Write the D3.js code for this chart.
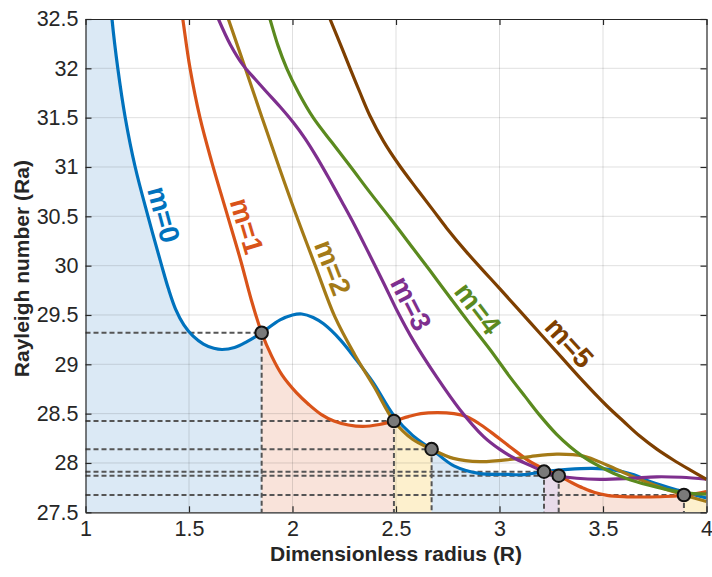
<!DOCTYPE html>
<html>
<head>
<meta charset="utf-8">
<script src="https://cdn.jsdelivr.net/npm/d3@7"></script>
<style>
  body { margin: 0; background: #fff; }
  text { font-family: "Liberation Sans", Arial, Helvetica, sans-serif; }
</style>
</head>
<body>
<svg id="chart" width="712" height="577"></svg>
<script>
// critical Rayleigh number vs radius, one curve per azimuthal mode m
const m0 = [[1.0,36.3],[1.05,34.6],[1.10,33.25],[1.128,32.5],[1.156,32.0],[1.192,31.5],[1.24,31.0],[1.302,30.5],
  [1.368,30.0],[1.40,29.77],[1.435,29.56],[1.475,29.40],[1.52,29.285],[1.57,29.205],[1.62,29.162],[1.66,29.15],
  [1.72,29.17],[1.78,29.23],[1.851,29.32],[1.94,29.45],[2.0,29.5],[2.045,29.51],[2.10,29.475],[2.15,29.41],[2.23,29.25],
  [2.31,29.04],[2.39,28.815],[2.49,28.48],[2.58,28.28],[2.672,28.14],[2.78,27.97],[2.90,27.895],[3.03,27.885],
  [3.12,27.882],[3.215,27.912],[3.33,27.935],[3.45,27.945],[3.55,27.93],[3.65,27.88],[3.73,27.81],[3.86,27.725],[4.0,27.645]];
const m1 = [[1.44,32.95],[1.47,32.5],[1.505,32.0],[1.553,31.5],[1.61,31.05],[1.68,30.55],[1.75,30.05],[1.80,29.66],
  [1.851,29.32],[1.90,29.08],[1.95,28.89],[2.02,28.71],[2.08,28.59],[2.14,28.49],[2.20,28.425],[2.27,28.385],
  [2.34,28.37],[2.42,28.39],[2.49,28.425],[2.56,28.47],[2.62,28.50],[2.70,28.51],[2.78,28.50],[2.84,28.47],
  [2.90,28.40],[2.96,28.31],[3.05,28.165],[3.15,28.01],[3.215,27.94],[3.286,27.871],[3.35,27.80],[3.405,27.745],
  [3.46,27.70],[3.52,27.672],[3.60,27.658],[3.70,27.655],[3.80,27.66],[3.891,27.675],[3.95,27.69],[4.0,27.71]];
const m2 = [[1.62,32.93],[1.69,32.5],[1.772,32.0],[1.853,31.5],[1.935,31.0],[2.02,30.5],[2.11,30.0],[2.205,29.48],
  [2.30,29.10],[2.395,28.77],[2.49,28.425],[2.58,28.24],[2.672,28.14],[2.777,28.047],[2.906,28.013],
  [3.05,28.035],[3.15,28.065],[3.276,28.09],[3.405,28.07],[3.518,27.98],[3.646,27.86],[3.79,27.743],[3.891,27.675],[4.0,27.61]];
const m3 = [[1.60,32.72],[1.642,32.5],[1.70,32.24],[1.762,32.03],[1.82,31.89],[1.875,31.76],[1.94,31.61],[2.004,31.45],
  [2.06,31.29],[2.117,31.10],[2.18,30.87],[2.238,30.65],[2.30,30.41],[2.37,30.12],[2.439,29.83],[2.511,29.52],
  [2.584,29.24],[2.697,28.87],[2.809,28.54],[2.922,28.27],[3.0,28.14],[3.07,28.05],[3.15,27.975],[3.215,27.912],
  [3.286,27.871],[3.373,27.845],[3.486,27.834],[3.63,27.844],[3.76,27.86],[3.88,27.855],[4.0,27.837]];
const m4 = [[1.86,32.72],[1.891,32.5],[1.93,32.23],[1.972,32.0],[2.03,31.75],[2.10,31.5],[2.19,31.25],[2.278,31.01],
  [2.375,30.74],[2.472,30.48],[2.57,30.21],[2.664,29.95],[2.76,29.68],[2.85,29.43],[2.954,29.15],[3.051,28.87],
  [3.125,28.67],[3.196,28.48],[3.276,28.29],[3.341,28.165],[3.40,28.07],[3.47,27.98],[3.55,27.895],[3.63,27.83],
  [3.76,27.755],[3.891,27.70],[4.0,27.685]];
const m5 = [[2.15,32.66],[2.181,32.5],[2.23,32.25],[2.278,32.0],[2.325,31.76],[2.374,31.52],[2.44,31.26],[2.515,31.02],
  [2.60,30.78],[2.68,30.56],[2.745,30.38],[2.84,30.14],[2.93,29.93],[3.0,29.77],[3.15,29.42],[3.30,29.07],
  [3.39,28.86],[3.518,28.58],[3.60,28.42],[3.679,28.27],[3.76,28.14],[3.84,28.03],[3.92,27.93],[4.0,27.834]];

const curves = [m0, m1, m2, m3, m4, m5];
const modeNames = ["m=0", "m=1", "m=2", "m=3", "m=4", "m=5"];
const labelR = [1.305, 1.707, 2.124, 2.505, 2.836, 3.281];

// switch points of the lowest curve, and which mode owns each stretch
const dotR = [1.851, 2.49, 2.672, 3.215, 3.286, 3.891];
const dotRa = [29.32, 28.425, 28.14, 27.912, 27.871, 27.675];
const regionMode = [0, 1, 2, 0, 3, 1, 2];

const xTicks = [1, 1.5, 2, 2.5, 3, 3.5, 4];
const yTicks = [27.5, 28, 28.5, 29, 29.5, 30, 30.5, 31, 31.5, 32, 32.5];

const lineColors = ["#0072BD", "#D95319", "#A47A17", "#7E2F8E", "#5B8A1F", "#7E3F00"];
const fillColors = ["#dbe9f5", "#f9e3da", "#fdf0cd", "#e8dbea", "#e4eed7", "#eadbcf"];

const svg = d3.select("#chart");
const pLeft = 85.5, pRight = 706.5, pTop = 19, pBottom = 512.3;
const x = d3.scaleLinear().domain([1, 4]).range([pLeft, pRight]);
const y = d3.scaleLinear().domain([27.5, 32.5]).range([pBottom, pTop]);
const ink = "#262626";

const defs = svg.append("defs");
defs.append("clipPath").attr("id", "plotclip")
  .append("rect").attr("x", pLeft).attr("y", pTop).attr("width", pRight - pLeft).attr("height", pBottom - pTop);

const curveType = d3.curveCatmullRom.alpha(0.5);
const line = d3.line().x(d => x(d[0])).y(d => y(d[1])).curve(curveType);
const area = d3.area().x(d => x(d[0])).y0(y(27.5)).y1(d => y(d[1])).curve(curveType);

// shaded regions under the lowest curve
const bounds = [1].concat(dotR, [4]);
const fillG = svg.append("g");
regionMode.forEach((m, i) => {
  defs.append("clipPath").attr("id", "reg" + i)
    .append("rect")
    .attr("x", x(bounds[i])).attr("y", pTop)
    .attr("width", x(bounds[i + 1]) - x(bounds[i])).attr("height", pBottom - pTop);
  fillG.append("path")
    .attr("clip-path", "url(#reg" + i + ")")
    .attr("d", area(curves[m]))
    .attr("fill", fillColors[m]);
});

// grid
const grid = svg.append("g").attr("stroke", ink).attr("stroke-opacity", 0.14).attr("stroke-width", 1);
grid.selectAll(".gx").data(xTicks.slice(1, -1)).join("line")
  .attr("x1", d => x(d)).attr("x2", d => x(d)).attr("y1", pTop).attr("y2", pBottom);
grid.selectAll(".gy").data(yTicks.slice(1, -1)).join("line")
  .attr("y1", d => y(d)).attr("y2", d => y(d)).attr("x1", pLeft).attr("x2", pRight);

// dashed guides to the switch points
const guides = svg.append("g").attr("stroke", "#555").attr("stroke-width", 2).attr("stroke-dasharray", "5,3");
dotR.forEach((r, i) => {
  guides.append("line").attr("x1", x(1)).attr("x2", x(r)).attr("y1", y(dotRa[i])).attr("y2", y(dotRa[i]));
  guides.append("line").attr("x1", x(r)).attr("x2", x(r)).attr("y1", y(dotRa[i])).attr("y2", y(27.5));
});

// curves
const lineG = svg.append("g").attr("clip-path", "url(#plotclip)");
curves.forEach((c, i) => {
  lineG.append("path").attr("d", line(c)).attr("fill", "none")
    .attr("stroke", lineColors[i]).attr("stroke-width", 3.2);
});

// switch point markers
svg.append("g").selectAll("circle").data(dotR).join("circle")
  .attr("cx", d => x(d)).attr("cy", (d, i) => y(dotRa[i])).attr("r", 6.3)
  .attr("fill", "#7a7a7a").attr("stroke", "#111").attr("stroke-width", 2);

// curve labels, rotated along each curve
function valueAt(c, r) {
  for (let k = 1; k < c.length; k++) {
    if (c[k][0] >= r) {
      const t = (r - c[k - 1][0]) / (c[k][0] - c[k - 1][0]);
      return c[k - 1][1] + t * (c[k][1] - c[k - 1][1]);
    }
  }
  return c[c.length - 1][1];
}
labelR.forEach((r, i) => {
  const c = curves[i];
  const px = x(r), py = y(valueAt(c, r));
  const dx = x(r + 0.04) - x(r - 0.04);
  const dy = y(valueAt(c, r + 0.04)) - y(valueAt(c, r - 0.04));
  const ang = Math.atan2(dy, dx) * 180 / Math.PI;
  svg.append("text")
    .attr("transform", `translate(${px},${py}) rotate(${ang})`)
    .attr("dy", -6)
    .attr("text-anchor", "middle")
    .attr("font-size", 28).attr("font-weight", "bold")
    .attr("fill", lineColors[i])
    .text(modeNames[i]);
});

// axes
const fs = 21.5;
const ax = svg.append("g").attr("transform", `translate(0,${pBottom})`)
  .call(d3.axisBottom(x).tickValues(xTicks).tickFormat(d => String(d)).tickSizeInner(-6).tickSizeOuter(0).tickPadding(8));
const ay = svg.append("g").attr("transform", `translate(${pLeft},0)`)
  .call(d3.axisLeft(y).tickValues(yTicks).tickFormat(d => String(d)).tickSizeInner(-6).tickSizeOuter(0).tickPadding(7));
const at = svg.append("g").attr("transform", `translate(0,${pTop})`)
  .call(d3.axisTop(x).tickValues(xTicks).tickFormat("").tickSizeInner(-6).tickSizeOuter(0));
const ar = svg.append("g").attr("transform", `translate(${pRight},0)`)
  .call(d3.axisRight(y).tickValues(yTicks).tickFormat("").tickSizeInner(-6).tickSizeOuter(0));
[ax, ay, at, ar].forEach(g => {
  g.select(".domain").attr("stroke", ink).attr("stroke-width", 1.2);
  g.selectAll(".tick line").attr("stroke", ink).attr("stroke-width", 1.2);
  g.selectAll(".tick text").attr("fill", ink).attr("font-size", fs)
    .attr("font-family", "'Liberation Sans', Arial, Helvetica, sans-serif");
});

svg.append("text")
  .attr("x", (pLeft + pRight) / 2).attr("y", 561)
  .attr("text-anchor", "middle").attr("font-size", 21).attr("font-weight", "bold").attr("fill", ink)
  .text("Dimensionless radius (R)");
svg.append("text")
  .attr("transform", `translate(29,${(pTop + pBottom) / 2 + 3}) rotate(-90)`)
  .attr("text-anchor", "middle").attr("font-size", 21).attr("font-weight", "bold").attr("fill", ink)
  .text("Rayleigh number (Ra)");
</script>
</body>
</html>
